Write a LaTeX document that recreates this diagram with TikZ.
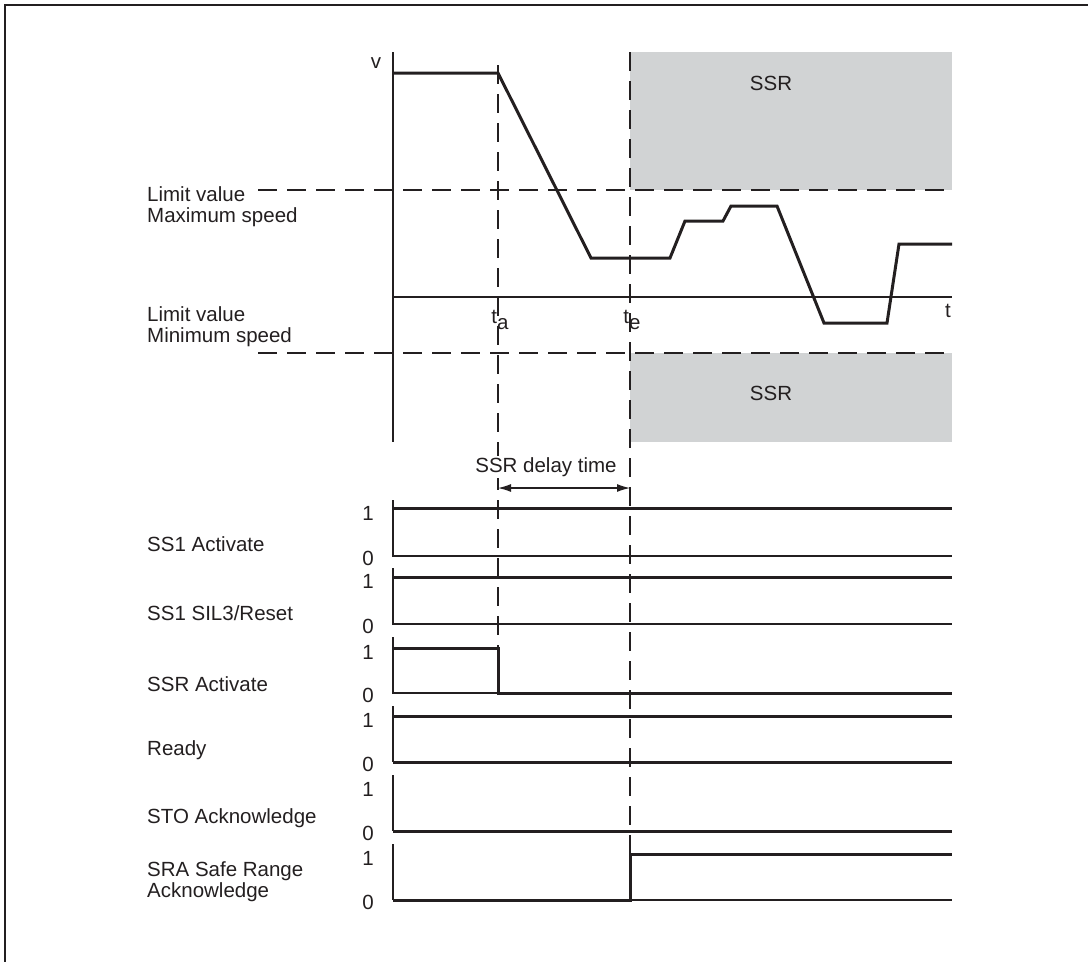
\documentclass[tikz,border=0pt]{standalone}
\usepackage{fontspec}
\setmainfont{Liberation Sans}
\usetikzlibrary{arrows.meta}
\definecolor{ssrgray}{HTML}{D1D3D4}
\definecolor{ink}{HTML}{231F20}
\begin{document}
\begin{tikzpicture}[x=1pt,y=-1pt,
  lbl/.style={font=\fontsize{20.5}{21}\selectfont, inner sep=0pt, text=ink},
  lleft/.style={lbl, anchor=west, align=left},
  axisline/.style={line width=1.4pt, draw=ink},
  sigline/.style={line width=3pt, draw=ink},
  dashline/.style={line width=1.3pt, draw=ink, dash pattern=on 19pt off 10pt},
  frameline/.style={line width=2pt, draw=ink}]
\useasboundingbox (0,0) rectangle (1088,962);

% frame (top and left only)
\draw[frameline] (1088,5) -- (5,5) -- (5,962);

% gray SSR regions
\fill[ssrgray] (630,52) rectangle (952,190);
\fill[ssrgray] (630,353) rectangle (952,442);
\node[lbl] (ssrtop) at (771,83) {SSR};
\node[lbl] (ssrbot) at (771,393) {SSR};

% axes of speed diagram
\coordinate (vtop) at (393,52);
\coordinate (vbot) at (393,442);
\coordinate (torig) at (393,297);
\coordinate (tend) at (952,297);
\draw[axisline] (vtop) -- (vbot);
\draw[axisline] (torig) -- (tend);
\node[lbl] (vlab) at (376,63) {v};
\node[lbl] (tlab) at (948,311) {t};

% limit lines
\coordinate (maxs) at (258,190);
\coordinate (maxe) at (952,190);
\coordinate (mins) at (258,353);
\coordinate (mine) at (952,353);
\draw[dashline] (maxs) -- (maxe);
\draw[dashline] (mins) -- (mine);
\node[lleft] (maxlab) at (147,207) {Limit value\\Maximum speed};
\node[lleft] (minlab) at (147,327) {Limit value\\Minimum speed};

% time markers
\coordinate (tatop) at (498,65);
\coordinate (tabot) at (498,648);
\coordinate (tetop) at (630,52);
\coordinate (tebot) at (630,854);
\draw[dashline] (tatop) -- (tabot);
\draw[dashline] (tetop) -- (tebot);
\node[lbl] (talab) at (500,320) {t\raisebox{-6pt}{a}};
\node[lbl] (telab) at (632,320) {t\raisebox{-6pt}{e}};

% speed curve
\draw[sigline, line join=miter] (393,73) -- (498,73) -- (591,258) -- (670,258) -- (685,221)
  -- (723,221) -- (731,206) -- (777,206) -- (824,323) -- (887,323) -- (899,244) -- (952,244);

% SSR delay time
\coordinate (dla) at (498,488);
\coordinate (dlb) at (630,488);
\draw[line width=1.2pt, draw=ink, {Latex[length=13pt,width=8pt]}-{Latex[length=13pt,width=8pt]}] (dla) -- (dlb);
\node[lbl, fill=white, inner sep=1pt] (dltxt) at (546,467) {SSR delay time};

% ---- signal panels ----
% 1 SS1 Activate
\draw[axisline] (393,500) -- (393,556) -- (952,556);
\draw[sigline] (393,508) -- (952,508);
\node[lbl] (one1) at (368,513) {1};
\node[lbl] (zero1) at (368,558) {0};
\node[lleft] (lab1) at (147,544) {SS1 Activate};

% 2 SS1 SIL3/Reset
\draw[axisline] (393,568) -- (393,624) -- (952,624);
\draw[sigline] (393,577) -- (952,577);
\node[lbl] (one2) at (368,581) {1};
\node[lbl] (zero2) at (368,626) {0};
\node[lleft] (lab2) at (147,613) {SS1 SIL3/Reset};

% 3 SSR Activate
\draw[axisline] (393,637) -- (393,693) -- (498,693);
\draw[sigline] (393,648) -- (498,648) -- (498,693) -- (952,693);
\node[lbl] (one3) at (368,652) {1};
\node[lbl] (zero3) at (368,695) {0};
\node[lleft] (lab3) at (147,684) {SSR Activate};

% 4 Ready
\draw[axisline] (393,706) -- (393,762);
\draw[sigline] (393,716) -- (952,716);
\draw[sigline] (393,762) -- (952,762);
\node[lbl] (one4) at (368,720) {1};
\node[lbl] (zero4) at (368,764) {0};
\node[lleft] (lab4) at (147,750) {Ready};

% 5 STO Acknowledge
\draw[axisline] (393,775) -- (393,831);
\draw[sigline] (393,831) -- (952,831);
\node[lbl] (one5) at (368,789) {1};
\node[lbl] (zero5) at (368,833) {0};
\node[lleft] (lab5) at (147,818) {STO Acknowledge};

% 6 SRA Safe Range Acknowledge
\draw[axisline] (393,844) -- (393,900);
\draw[axisline] (630,900) -- (952,900);
\draw[sigline] (393,900) -- (630,900) -- (630,854) -- (952,854);
\node[lbl] (one6) at (368,858) {1};
\node[lbl] (zero6) at (368,902) {0};
\node[lleft] (lab6) at (147,882) {SRA Safe Range\\Acknowledge};
\end{tikzpicture}
\end{document}
